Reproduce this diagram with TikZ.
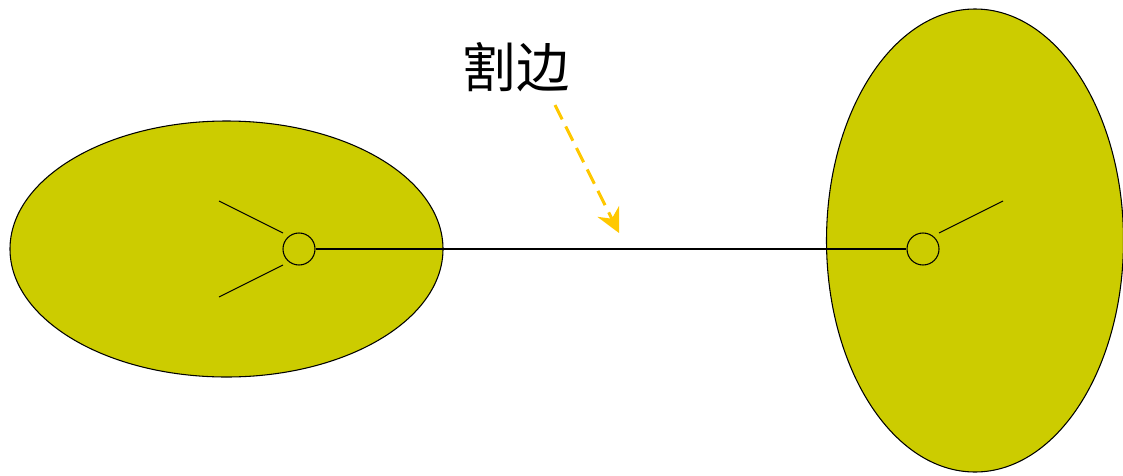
\documentclass[tikz,border=0pt]{standalone}
\usepackage{fontspec}
\newfontfamily\cjk{Noto Sans CJK SC}
\usetikzlibrary{arrows.meta}
\definecolor{olive}{HTML}{CCCC00}
\definecolor{gold}{HTML}{FFC800}

\begin{document}
\begin{tikzpicture}[x=0.75pt,y=-0.75pt,line width=0.8pt,
  vert/.style={draw,circle,inner sep=0pt,minimum size=24pt},
  comp/.style={draw,fill=olive}]
\useasboundingbox (0,0) rectangle (1123,475);
\filldraw[comp] (226.5,249) ellipse (216.5 and 128);
\filldraw[comp] (975,240.5) ellipse (148.5 and 231.5);
\node[vert] (vL) at (299,249) {};
\node[vert] (vR) at (923,249) {};
\coordinate (a1) at (219,201);
\coordinate (a1e) at (283,233);
\coordinate (a2) at (219,297);
\coordinate (a2e) at (283,265);
\coordinate (b1) at (1003,201);
\coordinate (b1e) at (939,233);
\node[font=\cjk\fontsize{40}{44}\selectfont] (cut) at (516,67) {割边};
\coordinate (tip) at (619,233);
\draw (a1) -- (a1e);
\draw (a2) -- (a2e);
\draw (b1e) -- (b1);
\draw (vL) -- (vR);
\draw[gold,line width=2.2pt,dash pattern=on 12pt off 6pt,-{Stealth[length=18pt,width=18pt,inset=6pt]}]
  (555,105) -- (tip);
\end{tikzpicture}
\end{document}
